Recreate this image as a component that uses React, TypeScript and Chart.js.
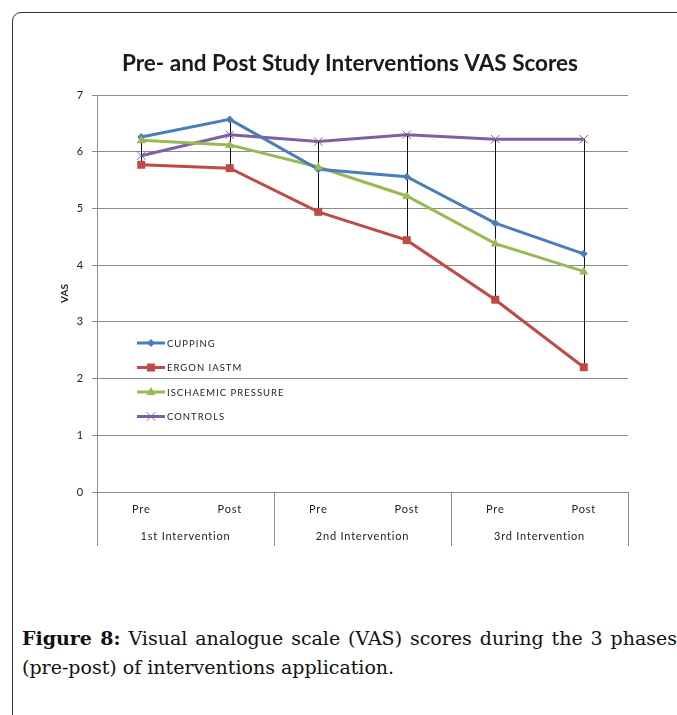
import React, { useEffect, useRef } from "react";
import { Chart, registerables } from "chart.js";

Chart.register(...registerables);

const categories = ["Pre", "Post", "Pre", "Post", "Pre", "Post"];
const groupLabels = ["1st Intervention", "2nd Intervention", "3rd Intervention"];
const cupping = [6.26, 6.57, 5.69, 5.56, 4.74, 4.2];
const ergonIastm = [5.77, 5.71, 4.94, 4.44, 3.39, 2.2];
const ischaemicPressure = [6.2, 6.12, 5.73, 5.22, 4.38, 3.89];
const controls = [5.93, 6.3, 6.18, 6.3, 6.22, 6.22];
const seriesNames = ["CUPPING", "ERGON IASTM", "ISCHAEMIC PRESSURE", "CONTROLS"];
const yTicks = [0, 1, 2, 3, 4, 5, 6, 7];
const chartTitle = "Pre- and Post Study Interventions VAS Scores";

const COLORS = ["#4A7EBB", "#BE4B48", "#98B954", "#7D60A0"];
const MARKERS = ["rectRot", "rect", "triangle", "crossRot"];
const RADII = [4, 5, 5, 6];
const FONT = "Lato, 'Open Sans', sans-serif";

function drawMarker(ctx: CanvasRenderingContext2D, style: string, x: number, y: number, r: number, color: string) {
  ctx.save();
  ctx.fillStyle = color;
  ctx.strokeStyle = color;
  ctx.lineWidth = 1;
  ctx.beginPath();
  if (style === "rectRot") {
    ctx.moveTo(x, y - r);
    ctx.lineTo(x + r, y);
    ctx.lineTo(x, y + r);
    ctx.lineTo(x - r, y);
    ctx.closePath();
    ctx.fill();
  } else if (style === "rect") {
    ctx.rect(x - r * 0.8, y - r * 0.8, r * 1.6, r * 1.6);
    ctx.fill();
  } else if (style === "triangle") {
    ctx.moveTo(x, y - r);
    ctx.lineTo(x + r * 0.9, y + r * 0.6);
    ctx.lineTo(x - r * 0.9, y + r * 0.6);
    ctx.closePath();
    ctx.fill();
  } else {
    const d = r * 0.7;
    ctx.moveTo(x - d, y - d);
    ctx.lineTo(x + d, y + d);
    ctx.moveTo(x + d, y - d);
    ctx.lineTo(x - d, y + d);
    ctx.stroke();
  }
  ctx.restore();
}

const extrasPlugin = {
  id: "extras",
  beforeDraw(chart: any) {
    (chart.ctx as any).letterSpacing = "0.8px";
  },
  afterDatasetsDraw(chart: any) {
    const { ctx, scales } = chart;
    const xs = scales.x;
    const ys = scales.y;
    ctx.save();
    ctx.strokeStyle = "#111";
    ctx.lineWidth = 1;
    categories.forEach((_, i) => {
      const vals = chart.data.datasets.map((d: any) => d.data[i] as number);
      const hi = Math.max(...vals);
      const lo = Math.min(...vals);
      const x = Math.round(xs.getPixelForValue(i)) + 0.5;
      ctx.beginPath();
      ctx.moveTo(x, ys.getPixelForValue(hi));
      ctx.lineTo(x, ys.getPixelForValue(lo));
      ctx.stroke();
    });
    ctx.restore();
    chart.data.datasets.forEach((d: any, di: number) => {
      d.data.forEach((v: number, i: number) => {
        drawMarker(ctx, MARKERS[di], xs.getPixelForValue(i), ys.getPixelForValue(v), RADII[di], COLORS[di]);
      });
    });
  },
  afterDraw(chart: any) {
    const { ctx, chartArea, scales } = chart;
    const xs = scales.x;
    const bottom = chartArea.bottom;
    const extBottom = bottom + 54;
    ctx.save();
    ctx.strokeStyle = "#8c8c8c";
    ctx.lineWidth = 1;
    const seps = [chartArea.left];
    for (let g = 1; g < groupLabels.length; g++) {
      seps.push((xs.getPixelForValue(g * 2 - 1) + xs.getPixelForValue(g * 2)) / 2);
    }
    seps.push(chartArea.right);
    seps.forEach((sx) => {
      const x = Math.round(sx) + 0.5;
      ctx.beginPath();
      ctx.moveTo(x, bottom);
      ctx.lineTo(x, extBottom);
      ctx.stroke();
    });
    ctx.fillStyle = "#222";
    ctx.letterSpacing = "0.8px";
    ctx.font = `11px ${FONT}`;
    ctx.textAlign = "center";
    ctx.textBaseline = "middle";
    groupLabels.forEach((g, gi) => {
      const cx = (seps[gi] + seps[gi + 1]) / 2;
      ctx.fillText(g, cx, bottom + 44);
    });
    // y title
    ctx.save();
    ctx.translate(chartArea.left - 32, (chartArea.top + chartArea.bottom) / 2);
    ctx.rotate(-Math.PI / 2);
    ctx.letterSpacing = "0px";
    ctx.font = `bold 10px ${FONT}`;
    ctx.fillText("VAS", 0, 0);
    ctx.restore();
    // chart title
    ctx.letterSpacing = "0px";
    ctx.font = `bold 22.5px ${FONT}`;
    ctx.textAlign = "center";
    ctx.textBaseline = "alphabetic";
    ctx.fillStyle = "#1a1a1a";
    ctx.fillText(chartTitle, 350, chartArea.top - 24);
    // legend
    const lx = chartArea.left + 40;
    let ly = chartArea.top + 248;
    seriesNames.forEach((name, i) => {
      ctx.strokeStyle = COLORS[i];
      ctx.lineWidth = 3;
      ctx.beginPath();
      ctx.moveTo(lx, ly);
      ctx.lineTo(lx + 28, ly);
      ctx.stroke();
      drawMarker(ctx, MARKERS[i], lx + 14, ly, RADII[i], COLORS[i]);
      ctx.fillStyle = "#222";
      ctx.letterSpacing = "1px";
      ctx.font = `9.5px ${FONT}`;
      ctx.textAlign = "left";
      ctx.textBaseline = "middle";
      ctx.fillText(name, lx + 30, ly + 0.5);
      ly += 24.5;
    });
    ctx.restore();
  },
};

export default function App() {
  const ref = useRef<HTMLCanvasElement>(null);
  useEffect(() => {
    if (!ref.current) return;
    const seriesData = [cupping, ergonIastm, ischaemicPressure, controls];
    const chart = new Chart(ref.current, {
      type: "line",
      data: {
        labels: categories,
        datasets: seriesData.map((d, i) => ({
          label: seriesNames[i],
          data: d,
          borderColor: COLORS[i],
          backgroundColor: COLORS[i],
          borderWidth: 3,
          pointRadius: 0,
          tension: 0,
          fill: false,
        })),
      },
      options: {
        responsive: false,
        animation: false,
        devicePixelRatio: 1,
        layout: { padding: { left: 0, right: 72, top: 95, bottom: 0 } },
        plugins: {
          legend: { display: false },
          tooltip: { enabled: false },
          title: { display: false },
        },
        scales: {
          x: {
            type: "category",
            offset: true,
            grid: { display: false, drawTicks: false },
            border: { display: false },
            ticks: { color: "#222", font: { family: FONT, size: 11 }, padding: 11, maxRotation: 0, autoSkip: false },
            afterFit(scale: any) {
              scale.height = 68;
            },
          },
          y: {
            min: 0,
            max: 7,
            afterBuildTicks(scale: any) {
              scale.ticks = yTicks.map((v) => ({ value: v }));
            },
            grid: { color: "#8c8c8c", lineWidth: 1, tickLength: 5, drawTicks: true },
            border: { display: true, color: "#8c8c8c" },
            ticks: { color: "#222", font: { family: FONT, size: 11 }, padding: 8 },
            afterFit(scale: any) {
              scale.width = 97;
            },
          },
        },
      },
      plugins: [extrasPlugin],
    } as any);
    return () => chart.destroy();
  }, []);

  return (
    <div style={{ position: "absolute", left: 0, top: 0, width: 677, height: 715, overflow: "hidden", background: "#fff" }}>
      <div
        style={{
          position: "absolute",
          left: 12,
          top: 12,
          width: 720,
          height: 740,
          border: "1px solid #333",
          borderTopLeftRadius: 9,
          boxSizing: "border-box",
        }}
      />
      <canvas ref={ref} width={700} height={560} style={{ position: "absolute", left: 0, top: 0 }} />
      <div
        style={{
          position: "absolute",
          left: 22,
          top: 624,
          width: 655,
          fontFamily: "'DejaVu Serif', 'Liberation Serif', serif",
          fontSize: 19,
          lineHeight: "29px",
          color: "#111",
          textAlign: "justify",
          textAlignLast: "left",
        }}
      >
        <b>Figure 8:</b> Visual analogue scale (VAS) scores during the 3 phases (pre-post) of interventions application.
      </div>
    </div>
  );
}
